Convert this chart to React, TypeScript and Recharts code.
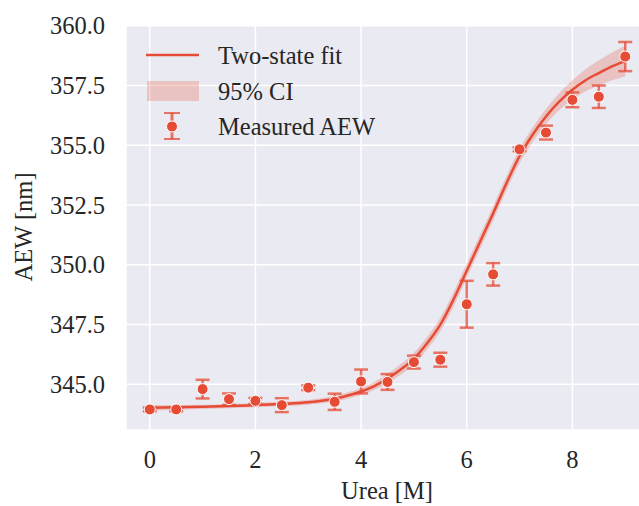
import {
  ComposedChart,
  Line,
  Area,
  Scatter,
  ErrorBar,
  XAxis,
  YAxis,
  CartesianGrid,
} from "recharts";

// measured points
const urea = [0, 0.5, 1, 1.5, 2, 2.5, 3, 3.5, 4, 4.5, 5, 5.5, 6, 6.5, 7, 7.5, 8, 8.5, 9];
const aew = [
  343.95, 343.95, 344.8, 344.38, 344.31, 344.13, 344.86, 344.27, 345.12, 345.1,
  345.93, 346.03, 348.35, 349.6, 354.83, 355.53, 356.9, 357.03, 358.71,
];
const aewErr = [
  0.08, 0.08, 0.39, 0.24, 0.12, 0.29, 0.1, 0.34, 0.5, 0.33, 0.27, 0.29, 0.98, 0.47,
  0.08, 0.29, 0.31, 0.47, 0.61,
];

// two-state fit curve
const fitUrea = [
  0, 0.5, 1, 1.5, 2, 2.5, 3, 3.5, 3.75, 4, 4.25, 4.5, 4.75, 5, 5.25, 5.5, 5.75, 6,
  6.25, 6.5, 6.75, 7, 7.25, 7.5, 7.75, 8, 8.25, 8.5, 8.75, 9,
];
const fitAew = [
  344.02, 344.04, 344.06, 344.09, 344.13, 344.18, 344.25, 344.4, 344.53, 344.7,
  344.93, 345.24, 345.62, 346.08, 346.72, 347.5, 348.55, 349.75, 350.95, 352.15,
  353.4, 354.55, 355.45, 356.2, 356.82, 357.32, 357.72, 358.02, 358.3, 358.52,
];
const ciHalf = [
  0.12, 0.1, 0.09, 0.09, 0.09, 0.1, 0.1, 0.12, 0.13, 0.15, 0.17, 0.2, 0.22, 0.24,
  0.26, 0.28, 0.3, 0.3, 0.3, 0.3, 0.3, 0.3, 0.3, 0.32, 0.36, 0.4, 0.46, 0.52, 0.58,
  0.64,
];

const xTicks = [0, 2, 4, 6, 8];
const yTicks = [345, 347.5, 350, 352.5, 355, 357.5, 360];

const RED = "#E64B35";
const INK = "#262626";
const FONT = "'Liberation Serif', 'Times New Roman', serif";
const FS = 24.5;

const fitData = fitUrea.map((x, i) => ({
  x,
  fit: fitAew[i],
  ci: [fitAew[i] - ciHalf[i], fitAew[i] + ciHalf[i]],
}));
const measured = urea.map((x, i) => ({ x, y: aew[i], err: aewErr[i] }));

const tickStyle = { fill: INK, fontSize: FS, fontFamily: FONT };

function Dot(props: any) {
  const { cx, cy } = props;
  return <circle cx={cx} cy={cy} r={5.5} fill={RED} stroke="#fff" strokeWidth={1} />;
}

function LegendBox() {
  const txt = { fontFamily: FONT, fontSize: FS, fill: INK };
  return (
    <svg
      width={280}
      height={120}
      style={{ position: "absolute", left: 140, top: 30 }}
    >
      <line x1={6} x2={59} y1={25} y2={25} stroke={RED} strokeWidth={2.5} />
      <text x={78} y={25} dy="0.35em" {...txt}>Two-state fit</text>
      <rect x={7} y={51} width={52} height={20} fill={RED} fillOpacity={0.25} />
      <text x={78} y={61.5} dy="0.35em" {...txt}>95% CI</text>
      <g stroke={RED} strokeOpacity={0.75}>
        <line x1={32} x2={32} y1={83} y2={109} strokeWidth={3} />
        <line x1={24} x2={40} y1={83} y2={83} strokeWidth={2} />
        <line x1={24} x2={40} y1={109} y2={109} strokeWidth={2} />
      </g>
      <circle cx={32} cy={96.5} r={5.5} fill={RED} stroke="#fff" strokeWidth={1} />
      <text x={78} y={96.5} dy="0.35em" {...txt}>Measured AEW</text>
    </svg>
  );
}

export default function App() {
  return (
    <div
      style={{
        position: "fixed",
        left: 0,
        top: 0,
        width: 639,
        height: 506,
        overflow: "hidden",
        background: "#fff",
      }}
    >
      <ComposedChart
        width={660}
        height={506}
        data={fitData}
        margin={{ top: 25, right: 11, left: 0, bottom: 0 }}
      >
        <CartesianGrid fill="#eaeaf2" stroke="#fff" strokeWidth={1.5} />
        <XAxis
          dataKey="x"
          type="number"
          domain={[-0.45, 9.45]}
          ticks={xTicks}
          allowDataOverflow
          tickLine={false}
          axisLine={false}
          tickSize={6}
          tickMargin={15}
          height={76}
          tick={tickStyle}
          label={{
            content: () => (
              <text
                x={387}
                y={499}
                textAnchor="middle"
                style={{ fill: INK, fontSize: FS, fontFamily: FONT }}
              >
                Urea [M]
              </text>
            ),
          }}
        />
        <YAxis
          type="number"
          domain={[343.09, 360.03]}
          ticks={yTicks}
          allowDataOverflow
          tickLine={false}
          axisLine={false}
          tickSize={6}
          tickMargin={15}
          width={126}
          tick={tickStyle}
          tickFormatter={(v: number) => v.toFixed(1)}
          label={{
            content: () => (
              <text
                x={32}
                y={227}
                textAnchor="middle"
                transform="rotate(-90, 32, 227)"
                style={{ fill: INK, fontSize: FS, fontFamily: FONT }}
              >
                AEW [nm]
              </text>
            ),
          }}
        />
        <Area
          dataKey="ci"
          type="monotone"
          stroke="none"
          fill={RED}
          fillOpacity={0.25}
          isAnimationActive={false}
          activeDot={false}
        />
        <Line
          dataKey="fit"
          type="monotone"
          stroke={RED}
          strokeWidth={2.5}
          dot={false}
          activeDot={false}
          isAnimationActive={false}
        />
        <Scatter data={measured} dataKey="y" shape={<Dot />} isAnimationActive={false}>
          <ErrorBar
            dataKey="err"
            direction="y"
            width={7}
            stroke={RED}
            strokeOpacity={0.75}
            strokeWidth={2.5}
          />
        </Scatter>
      </ComposedChart>
      <LegendBox />
    </div>
  );
}
